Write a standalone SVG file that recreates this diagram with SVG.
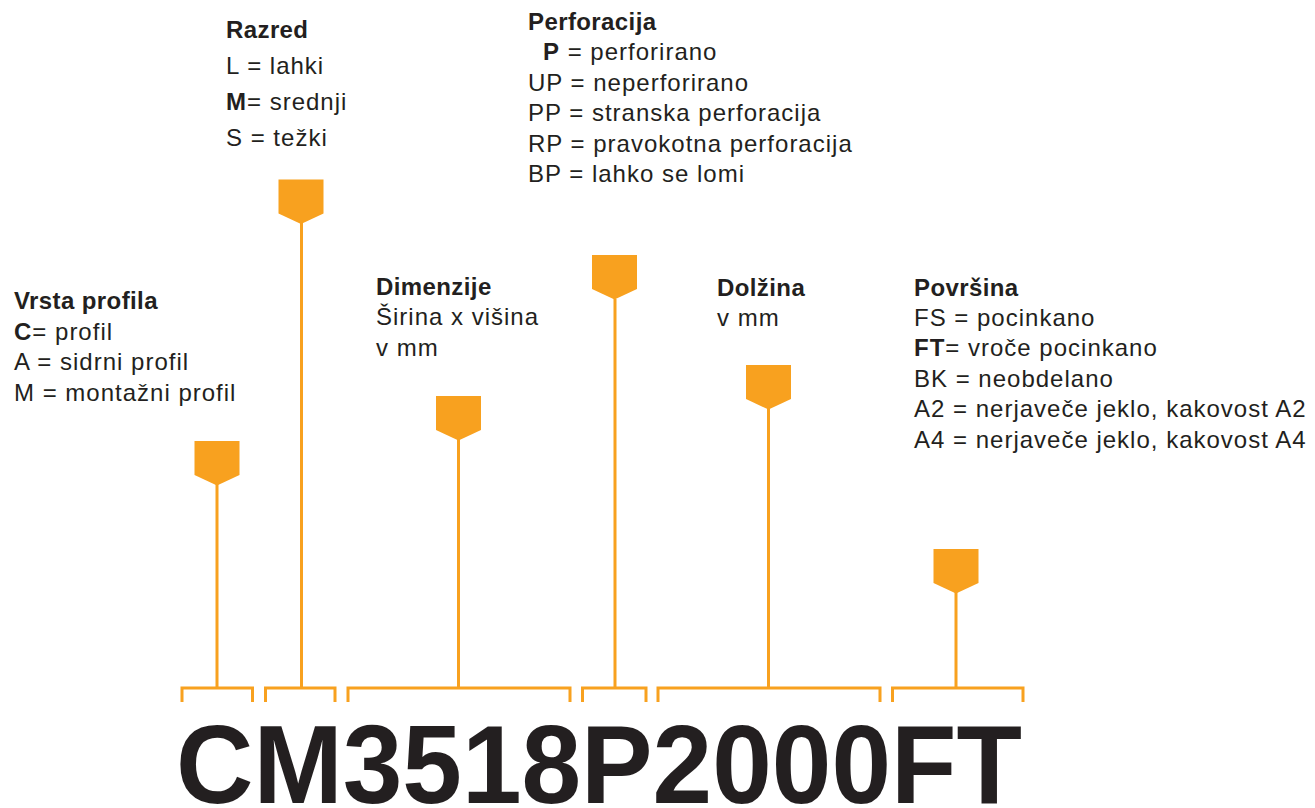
<svg xmlns="http://www.w3.org/2000/svg" width="1315" height="808" viewBox="0 0 1315 808">
<defs>
<style>
text{font-family:"Liberation Sans",Arial,Helvetica,sans-serif;fill:#231F20}
.t{font-size:24px;font-weight:bold;letter-spacing:0.4px}
.r{font-size:24px;letter-spacing:1px}
.b{font-weight:bold}
.code{font-size:112px;font-weight:bold}
.mk{fill:#F8A11F}
.ln{stroke:#F8A11F;stroke-width:3;fill:none}
</style>
<polygon id="pent" points="-22.5,0 22.5,0 22.5,34 0,44.5 -22.5,34"/>
</defs>
<rect width="1315" height="808" fill="#fff"/>
<g id="connectors">
<path class="ln" d="M217,484 V688 M182,702 V688 H252.5 V702"/>
<path class="ln" d="M301.5,223 V688 M265.5,702 V688 H335 V702"/>
<path class="ln" d="M458.5,439 V688 M348,702 V688 H570 V702"/>
<path class="ln" d="M615,299 V688 M582.5,702 V688 H646 V702"/>
<path class="ln" d="M768.5,408 V688 M658,702 V688 H880 V702"/>
<path class="ln" d="M956,592 V688 M892.5,702 V688 H1023 V702"/>
</g>
<g id="vrsta">
<use href="#pent" class="mk" x="217" y="441"/>
<text x="14" y="309" class="t">Vrsta profila</text>
<text x="14" y="339.5" class="r"><tspan class="b">C</tspan>= profil</text>
<text x="14" y="370" class="r">A = sidrni profil</text>
<text x="14" y="400.5" class="r">M = montažni profil</text>
</g>
<g id="razred">
<use href="#pent" class="mk" x="301" y="179.5"/>
<text x="226" y="38" class="t">Razred</text>
<text x="226" y="74" class="r">L = lahki</text>
<text x="226" y="110" class="r"><tspan class="b">M</tspan>= srednji</text>
<text x="226" y="145.5" class="r">S = težki</text>
</g>
<g id="dimenzije">
<use href="#pent" class="mk" x="458.5" y="396"/>
<text x="376" y="294.5" class="t">Dimenzije</text>
<text x="376" y="325" class="r">Širina x višina</text>
<text x="376" y="356" class="r">v mm</text>
</g>
<g id="perforacija">
<use href="#pent" class="mk" x="614.5" y="255"/>
<text x="528" y="29.5" class="t">Perforacija</text>
<text x="543" y="60" class="r"><tspan class="b">P</tspan> = perforirano</text>
<text x="528" y="90.5" class="r">UP = neperforirano</text>
<text x="528" y="121" class="r">PP = stranska perforacija</text>
<text x="528" y="151.5" class="r">RP = pravokotna perforacija</text>
<text x="528" y="182" class="r">BP = lahko se lomi</text>
</g>
<g id="dolzina">
<use href="#pent" class="mk" x="768.5" y="365"/>
<text x="717" y="295.5" class="t">Dolžina</text>
<text x="717" y="325.5" class="r">v mm</text>
</g>
<g id="povrsina">
<use href="#pent" class="mk" x="956" y="549"/>
<text x="914" y="295.5" class="t">Površina</text>
<text x="914" y="325.5" class="r">FS = pocinkano</text>
<text x="914" y="356" class="r"><tspan class="b">FT</tspan>= vroče pocinkano</text>
<text x="914" y="386.5" class="r">BK = neobdelano</text>
<text x="914" y="417" class="r">A2 = nerjaveče jeklo, kakovost A2</text>
<text x="914" y="447.5" class="r">A4 = nerjaveče jeklo, kakovost A4</text>
</g>
<g id="code">
<text x="176" y="803" class="code" textLength="846" lengthAdjust="spacingAndGlyphs">CM3518P2000FT</text>
</g>
</svg>
